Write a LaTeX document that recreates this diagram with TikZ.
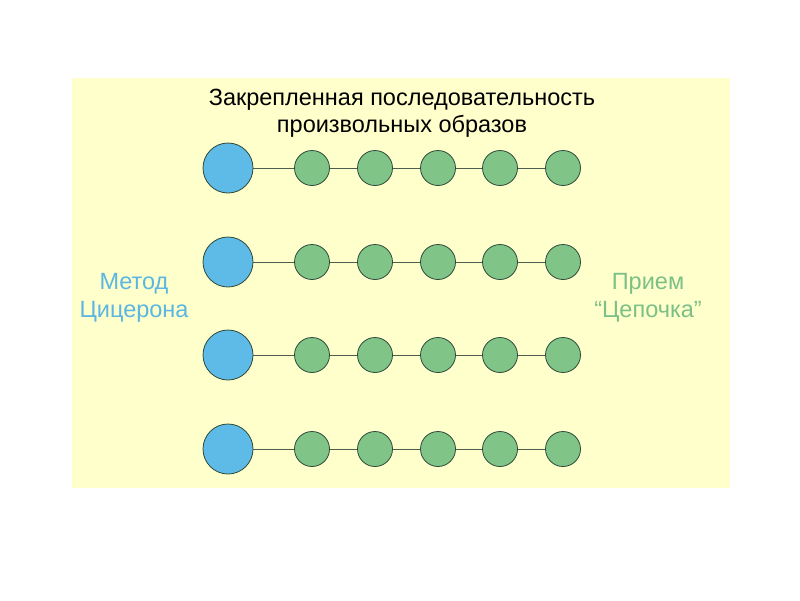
\documentclass[tikz,border=0pt]{standalone}
\usepackage{fontspec}
\setmainfont{Liberation Sans}
\definecolor{bgy}{HTML}{FFFFCC}
\definecolor{bluef}{HTML}{5EBAE6}
\definecolor{greenf}{HTML}{80C488}
\definecolor{outl}{HTML}{2E4A3A}
\definecolor{linec}{HTML}{4E5E4E}
\definecolor{bluet}{HTML}{5CB6E2}
\definecolor{greent}{HTML}{7CC087}
\tikzset{
  bigc/.style={circle, draw=outl, line width=0.8pt, fill=bluef, minimum size=50pt, inner sep=0pt},
  smallc/.style={circle, draw=outl, line width=0.8pt, fill=greenf, minimum size=35pt, inner sep=0pt},
  link/.style={draw=linec, line width=1pt},
  lbl/.style={font=\fontsize{23.5pt}{27.5pt}\selectfont, align=center}
}
\begin{document}
\begin{tikzpicture}[x=1pt,y=-1pt]
\useasboundingbox (0,0) rectangle (800,600);
\fill[white] (0,0) rectangle (800,600);
\fill[bgy] (72,78) rectangle (730,488);
\node[lbl, text=black] (title) at (402,113) {Закрепленная последовательность\\произвольных образов};
\node[lbl, text=bluet] (left) at (134,298) {Метод\\Цицерона};
\node[lbl, text=greent] (right) at (648,298) {Прием\\“Цепочка”};
\foreach \r/\y in {1/168,2/262,3/355,4/449}{
  \node[bigc] (b\r) at (228,\y) {};
  \foreach \k/\x in {1/312,2/375,3/438,4/500,5/563}{
    \node[smallc] (g\r\k) at (\x,\y) {};
  }
  \draw[link] (b\r) -- (g\r1);
  \draw[link] (g\r1) -- (g\r2);
  \draw[link] (g\r2) -- (g\r3);
  \draw[link] (g\r3) -- (g\r4);
  \draw[link] (g\r4) -- (g\r5);
}
\end{tikzpicture}
\end{document}
